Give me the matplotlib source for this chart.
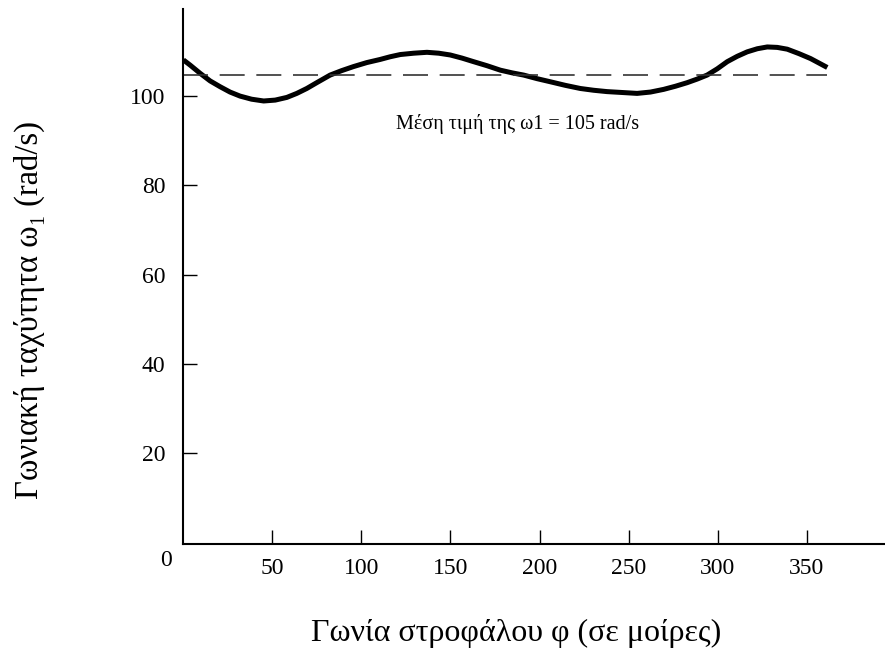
import matplotlib.pyplot as plt

# angle of crank (deg) and angular speed (rad/s)
phi = [0, 3.9, 9.4, 15, 20.6, 26.2, 31.8, 38.3, 45.1, 51.6, 58.1, 63.7, 69.3,
       74.9, 82.4, 88.9, 95.5, 103, 110.5, 116.1, 121.8, 129.3, 136.8, 143.4,
       149.9, 156.5, 163, 170.5, 178, 184.6, 191.1, 198.6, 206.1, 214.5,
       222.9, 230.4, 237.9, 246.4, 254.8, 262.3, 269.7, 276.3, 282.9, 288.5,
       294.1, 299.8, 305.4, 311, 316.6, 322.3, 327.9, 333.5, 339.1, 345.7,
       352.2, 356.9, 361.6]
omega = [108.1, 106.9, 105.1, 103.4, 102.1, 100.9, 100.0, 99.3, 98.9, 99.1,
         99.7, 100.6, 101.7, 103.0, 104.7, 105.7, 106.6, 107.5, 108.2, 108.8,
         109.3, 109.6, 109.8, 109.6, 109.2, 108.5, 107.7, 106.8, 105.8, 105.2,
         104.7, 103.9, 103.2, 102.4, 101.7, 101.3, 101.0, 100.8, 100.6, 100.9,
         101.5, 102.2, 103.0, 103.8, 104.7, 106.1, 107.7, 108.9, 109.9, 110.6,
         111.0, 110.9, 110.5, 109.5, 108.4, 107.4, 106.4]
mean_omega = 104.7
xticks = [50, 100, 150, 200, 250, 300, 350]
yticks = [20, 40, 60, 80, 100]

serif = ['Liberation Serif', 'DejaVu Serif']
plt.rcParams['font.family'] = serif

fig = plt.figure(figsize=(8.85, 6.66), dpi=100)
ax = fig.add_axes([0.2072, 0.1832, 0.7928, 0.8033])

ax.plot(phi, omega, color='black', lw=3.6, solid_capstyle='butt',
        solid_joinstyle='round')
ax.plot([phi[0], phi[-1]], [mean_omega, mean_omega], color='#333333',
        lw=1.2, linestyle=(0, (15, 7)))
ax.text(119.5, 93.7, 'Μέση τιμή της ω1 = 105 rad/s', fontsize=14.5,
        va='center', ha='left')

ax.set_xlim(0, 394)
ax.set_ylim(-0.3, 119.5)
ax.set_xticks(xticks)
ax.set_yticks(yticks)
ax.tick_params(direction='in', length=10, width=1, labelsize=17)
ax.tick_params(axis='x', pad=10)
ax.tick_params(axis='y', pad=13)
for s in ['top', 'right']:
    ax.spines[s].set_visible(False)
for s in ['left', 'bottom']:
    ax.spines[s].set_linewidth(1.5)

fig.text(166 / 885, 1 - 561 / 666, '0', fontsize=17, ha='center', va='center')
fig.text(29 / 885, 1 - 310 / 666, 'Γωνιακή ταχύτητα ω₁ (rad/s)',
         fontsize=23.5, rotation=90, ha='center', va='center')
fig.text(516 / 885, 1 - 633 / 666, 'Γωνία στροφάλου φ (σε μοίρες)',
         fontsize=23, ha='center', va='center')

fig.savefig('out.png', dpi=100)
